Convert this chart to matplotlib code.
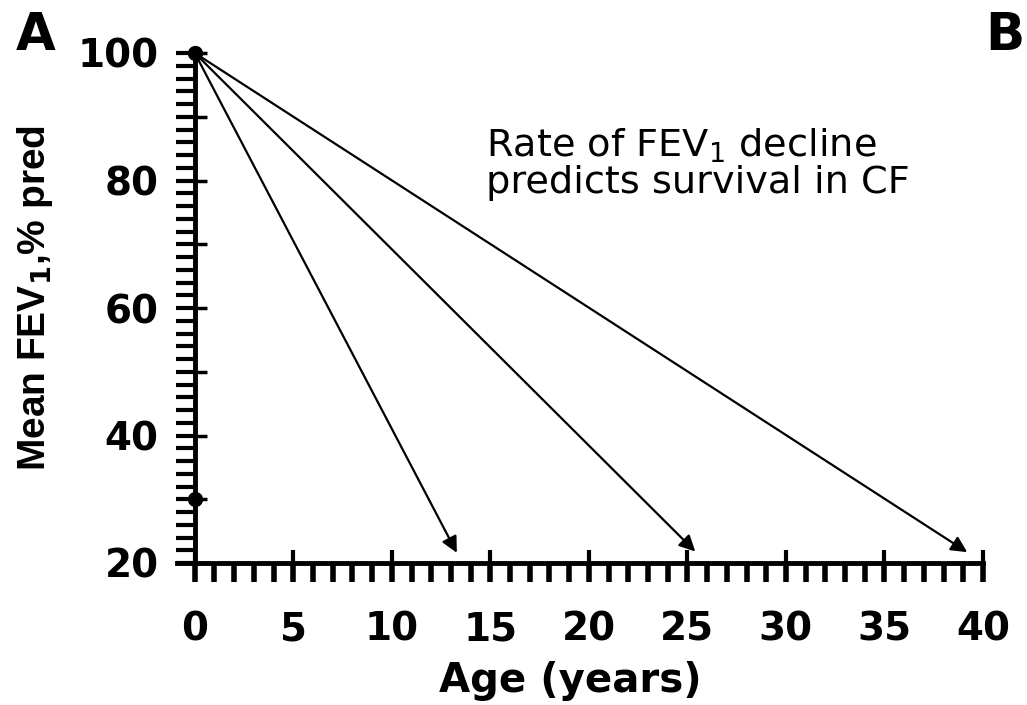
import matplotlib
matplotlib.use("Agg")
import matplotlib.pyplot as plt
from matplotlib.ticker import MultipleLocator, FuncFormatter

# ---- data ----
start_age = 0
start_fev = 100
end_ages = [13.3, 25.4, 39.2]
end_fevs = [21.6, 21.8, 21.7]
extra_point_age = [0]
extra_point_fev = [30]
x_major_ticks = [0, 5, 10, 15, 20, 25, 30, 35, 40]
y_labelled = [20, 40, 60, 80, 100]
annotation_lines = [r"Rate of FEV$_1$ decline", "predicts survival in CF"]

W, H, DPI = 1027, 705, 100
fig = plt.figure(figsize=(W / DPI, H / DPI), dpi=DPI)
plt.rcParams['mathtext.fontset'] = 'dejavusans'

def fx(px):
    return px / W

def fy(py):
    return 1 - py / H

ax = fig.add_axes([fx(177), fy(563), fx(983) - fx(177), fy(53) - fy(563)])
ax.set_xlim(-0.9, 40)
ax.set_ylim(20, 100)

for s in ['top', 'right']:
    ax.spines[s].set_visible(False)
ax.spines['left'].set_position(('data', 0))
ax.spines['left'].set_linewidth(3.5)
ax.spines['bottom'].set_linewidth(3.5)

ax.set_xticks(x_major_ticks)
ax.xaxis.set_minor_locator(MultipleLocator(1))
ax.yaxis.set_major_locator(MultipleLocator(10))
ax.yaxis.set_minor_locator(MultipleLocator(2))
ax.xaxis.remove_overlapping_locs = False
ax.yaxis.remove_overlapping_locs = False
ax.yaxis.set_major_formatter(FuncFormatter(lambda v, p: f"{int(round(v))}" if int(round(v)) in y_labelled else ""))

ax.tick_params(axis='x', which='major', direction='in', length=9.5, width=3, pad=34)
ax.tick_params(axis='x', which='minor', direction='out', length=14, width=4)
ax.tick_params(axis='y', which='major', direction='in', length=8.5, width=2.5, pad=26)
ax.tick_params(axis='y', which='minor', direction='out', length=14, width=3)
for lab in ax.get_xticklabels() + ax.get_yticklabels():
    lab.set_fontfamily('DejaVu Sans')
    lab.set_fontweight('bold')
    lab.set_fontsize(28)

# arrows
for xa, ya in zip(end_ages, end_fevs):
    ax.annotate("", xy=(xa, ya), xytext=(start_age, start_fev),
                arrowprops=dict(arrowstyle='-|>', color='black', lw=1.6,
                                mutation_scale=24, shrinkA=0, shrinkB=0),
                annotation_clip=False)
ax.plot([start_age], [start_fev], 'o', color='black', ms=10, clip_on=False, zorder=5)
ax.plot(extra_point_age, extra_point_fev, 'o', color='black', ms=10, clip_on=False, zorder=5)

# annotation text
ax.text(14.8, 83.7, annotation_lines[0], family='DejaVu Sans', size=27.5,
        va='baseline', ha='left')
ax.text(14.8, 78.0, annotation_lines[1], family='DejaVu Sans', size=27.5,
        va='baseline', ha='left')

# axis labels
fig.text(fx(35), fy(298), r"Mean FEV$_\mathbf{1}$,% pred", rotation=90,
         family='Liberation Sans', weight='bold', size=28, ha='center', va='center')
fig.text(fx(570), fy(692), "Age (years)", family='DejaVu Sans', weight='bold',
         size=29, ha='center', va='baseline')

# panel letters
fig.text(fx(16), fy(50), "A", family='DejaVu Sans', weight='bold', size=37,
         ha='left', va='baseline')
fig.text(fx(1024), fy(50), "B", family='DejaVu Sans', weight='bold', size=37,
         ha='right', va='baseline')

fig.savefig("out.png", dpi=DPI)
